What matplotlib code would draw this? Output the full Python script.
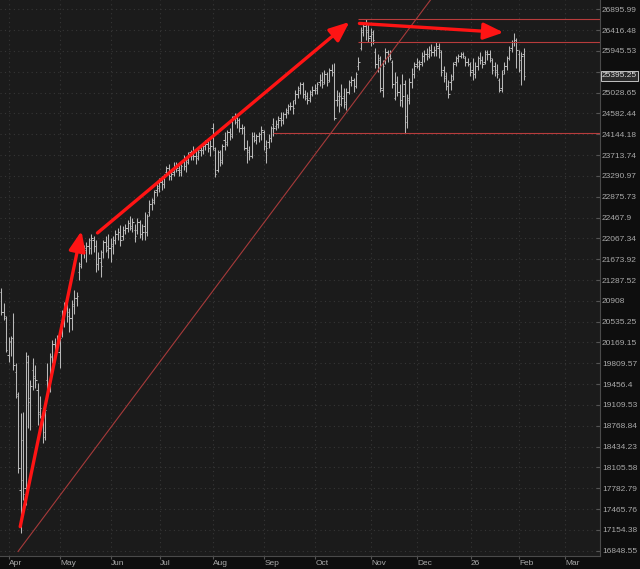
import numpy as np
import pandas as pd
import matplotlib
matplotlib.use('Agg')
import matplotlib.pyplot as plt
from matplotlib.ticker import NullLocator

plt.rcParams['font.family'] = ['Liberation Sans', 'DejaVu Sans']

# daily OHLC, 2025-03-26 .. 2026-02-03
opens = [21069, 20708, 20600, 19952, 20178, 20247, 19661, 19258, 17756, 18540, 17787, 19832, 19158, 19696, 19560, 19358,
         18994, 18928, 18668, 19526, 19392, 19935, 20143, 20109, 20004, 20530, 20672, 20780, 20636, 20600, 20852, 20960,
         21436, 21585, 21810, 21847, 21923, 21885, 22037, 21923, 21585, 21622, 21810, 21999, 21923, 21885, 21923, 22037,
         22152, 22190, 22113, 22228, 22267, 22363, 22267, 22228, 22228, 22382, 22152, 22305, 22190, 22577, 22733, 22812,
         23010, 23089, 23169, 23129, 23370, 23451, 23290, 23370, 23492, 23411, 23370, 23614, 23492, 23614, 23778, 23737,
         23696, 23696, 23819, 23819, 23901, 23943, 23860, 24276, 23819, 23411, 23778, 23614, 24026, 23984, 24192, 24150,
         24529, 24402, 24444, 24276, 24276, 23860, 23819, 23696, 24109, 24026, 24109, 24150, 24192, 23778, 23984, 24067,
         24360, 24318, 24360, 24487, 24444, 24572, 24656, 24742, 24742, 24870, 25000, 25086, 25217, 25000, 24913, 24913,
         25043, 25086, 25086, 25260, 25304, 25260, 25435, 25304, 25524, 25479, 24870, 24870, 24957, 24957, 24785, 25043,
         25260, 25304, 25173, 25612, 26013, 26421, 26512, 26376, 26285, 26376, 25924, 25656, 25790, 25086, 25745, 25924,
         25879, 25700, 24913, 25260, 25043, 24870, 25217, 24529, 24913, 25260, 25435, 25656, 25612, 25700, 25834, 25879,
         25879, 25968, 25924, 25968, 26013, 25924, 25524, 25392, 25173, 25260, 25392, 25700, 25790, 25834, 25879, 25790,
         25700, 25656, 25524, 25435, 25612, 25790, 25745, 25700, 25879, 25879, 25745, 25612, 25524, 25304, 25130, 25524,
         25612, 25790, 26013, 26149, 26194, 25879, 25524, 25879]
highs = [21142, 20870, 20636, 20265, 20282, 20690, 19815, 19325, 18977, 18994, 20004, 19952, 19526, 19900, 19781, 19476,
         19258, 19010, 19125, 19815, 19987, 20213, 20247, 20300, 20300, 20744, 20888, 20888, 20779, 20924, 21105, 21069,
         21622, 21885, 21942, 21999, 22075, 22152, 22113, 22037, 21810, 21847, 22037, 22113, 22152, 22075, 22113, 22228,
         22267, 22324, 22305, 22344, 22421, 22498, 22460, 22344, 22460, 22421, 22344, 22577, 22538, 22812, 22851, 23010,
         23129, 23250, 23290, 23330, 23492, 23533, 23411, 23573, 23573, 23533, 23533, 23716, 23655, 23778, 23819, 23901,
         23819, 23860, 23943, 23943, 24026, 24067, 24026, 24381, 23881, 23819, 23819, 23943, 24192, 24234, 24276, 24529,
         24593, 24529, 24487, 24360, 24318, 24026, 23901, 24192, 24192, 24150, 24192, 24318, 24234, 24026, 24150, 24318,
         24487, 24444, 24529, 24614, 24614, 24699, 24785, 24828, 24870, 25086, 25173, 25260, 25260, 25086, 25043, 25086,
         25173, 25217, 25260, 25435, 25479, 25524, 25479, 25567, 25656, 25678, 25086, 25043, 25217, 25130, 25130, 25304,
         25392, 25348, 25479, 25812, 26490, 26604, 26665, 26559, 26467, 26421, 26013, 25879, 25834, 25745, 26013, 25968,
         25968, 25745, 25479, 25392, 25217, 25435, 25304, 25000, 25348, 25567, 25700, 25790, 25745, 25924, 25968, 26013,
         26058, 26103, 26058, 26142, 26126, 25968, 25612, 25479, 25304, 25435, 25700, 25834, 25879, 25924, 25924, 25834,
         25790, 25700, 25790, 25700, 25834, 25924, 25834, 25968, 25968, 25968, 25790, 25700, 25656, 25348, 25524, 25700,
         25834, 26058, 26194, 26353, 26239, 25968, 25924, 26013]
lows = [20654, 20565, 20004, 19832, 19935, 19696, 19224, 18018, 17108, 17603, 17527, 18733, 18701, 19358, 19392, 18782,
        18895, 18492, 18540, 19241, 19325, 19815, 19866, 20004, 19729, 20265, 20441, 20530, 20353, 20388, 20672, 20816,
        21288, 21510, 21696, 21622, 21772, 21772, 21810, 21436, 21473, 21343, 21696, 21810, 21696, 21622, 21772, 21961,
        22037, 21923, 22037, 22152, 22190, 22228, 22190, 21999, 22152, 22075, 22037, 22037, 22113, 22498, 22616, 22733,
        22891, 22970, 23010, 23050, 23290, 23209, 23209, 23290, 23370, 23290, 23290, 23411, 23370, 23533, 23614, 23614,
        23533, 23614, 23696, 23737, 23819, 23778, 23696, 23819, 23270, 23370, 23492, 23533, 23819, 23901, 24026, 24067,
        24360, 24276, 24192, 24150, 23819, 23553, 23614, 23655, 23984, 23943, 23984, 24026, 23819, 23553, 23860, 23984,
        24109, 24234, 24276, 24318, 24360, 24487, 24572, 24656, 24572, 24785, 24913, 25000, 24913, 24870, 24785, 24828,
        24957, 25000, 25000, 25173, 25130, 25217, 25173, 25260, 25392, 24444, 24742, 24614, 24742, 24699, 24656, 25000,
        25173, 25043, 25130, 25524, 25968, 26285, 26194, 26149, 26058, 26103, 25568, 25479, 25043, 24935, 25656, 25700,
        25745, 25130, 24870, 24957, 24742, 24720, 24165, 24276, 24785, 25130, 25348, 25567, 25524, 25612, 25700, 25745,
        25790, 25834, 25834, 25834, 25790, 25392, 25260, 25086, 24913, 25086, 25304, 25612, 25700, 25790, 25790, 25612,
        25612, 25392, 25304, 25348, 25524, 25656, 25568, 25656, 25745, 25700, 25435, 25392, 25348, 25043, 25043, 25435,
        25524, 25745, 25924, 26058, 25568, 25479, 25195, 25304]
closes = [20708, 20636, 20039, 20195, 20247, 19781, 19291, 18096, 17910, 17695, 19935, 19224, 19425, 19593, 19526, 18961,
          19059, 18588, 19026, 19358, 19917, 20143, 20109, 20230, 20247, 20600, 20834, 20708, 20600, 20816, 20960, 20996,
          21548, 21810, 21885, 21923, 22037, 22075, 21923, 21585, 21696, 21548, 21999, 21847, 21885, 21961, 22037, 22152,
          22190, 22037, 22228, 22267, 22363, 22305, 22382, 22113, 22382, 22152, 22190, 22190, 22498, 22733, 22772, 22970,
          23050, 23169, 23129, 23290, 23451, 23290, 23330, 23492, 23451, 23411, 23492, 23492, 23573, 23737, 23696, 23696,
          23655, 23778, 23819, 23901, 23943, 23860, 23901, 23860, 23330, 23778, 23573, 23901, 23943, 24192, 24109, 24487,
          24487, 24444, 24276, 24276, 23860, 23778, 23696, 24109, 24026, 24109, 24150, 24234, 23901, 23860, 24067, 24276,
          24276, 24360, 24444, 24444, 24572, 24614, 24742, 24742, 24699, 25000, 25130, 25217, 25000, 24957, 24870, 25000,
          25086, 25130, 25217, 25304, 25217, 25435, 25260, 25524, 25479, 24487, 24957, 24785, 24913, 24828, 25043, 25260,
          25304, 25173, 25435, 25700, 26376, 26512, 26421, 26239, 26330, 26194, 25656, 25745, 25130, 25612, 25924, 25834,
          25790, 25217, 25260, 25043, 24870, 24957, 24402, 24870, 25260, 25435, 25612, 25700, 25656, 25834, 25879, 25834,
          25968, 25924, 25968, 26058, 25968, 25479, 25348, 25173, 25000, 25304, 25656, 25790, 25834, 25879, 25834, 25700,
          25656, 25479, 25435, 25612, 25790, 25745, 25656, 25924, 25879, 25790, 25524, 25479, 25435, 25086, 25435, 25612,
          25790, 25968, 26149, 26194, 25968, 25745, 25834, 25395.25]

holidays = ['2025-04-18', '2025-05-26', '2025-06-19', '2025-07-04', '2025-09-01', '2025-11-27',
            '2025-12-25', '2026-01-01', '2026-01-19', '2026-02-16']
month_labels = ['Apr', 'May', 'Jun', 'Jul', 'Aug', 'Sep', 'Oct', 'Nov', 'Dec', '26', 'Feb', 'Mar']

ytick_vals = [26895.99, 26416.48, 25945.53, 25482.97, 25028.65, 24582.44, 24144.18, 23713.74, 23290.97,
              22875.73, 22467.9, 22067.34, 21673.92, 21287.52, 20908, 20535.25, 20169.15, 19809.57, 19456.4,
              19109.53, 18768.84, 18434.23, 18105.58, 17782.79, 17465.76, 17154.38, 16848.55]
# the 25482.97 label sits under the last-price tag in the reference
ytick_labels = ['26895.99', '26416.48', '25945.53', '', '25028.65', '24582.44', '24144.18', '23713.74',
                '23290.97', '22875.73', '22467.9', '22067.34', '21673.92', '21287.52', '20908', '20535.25',
                '20169.15', '19809.57', '19456.4', '19109.53', '18768.84', '18434.23', '18105.58', '17782.79',
                '17465.76', '17154.38', '16848.55']

# drawn annotations: horizontal levels (price, start date), trend arrows ((idx, price) -> (idx, price))
levels = [26665, 26142, 24165]
level_starts = ['2025-10-24', '2025-10-24', '2025-09-05']
arrows = [((7.8, 17202), (33.0, 22208)),
          ((39.6, 22171), (143.3, 26604)),
          ((147.4, 26570), (206.7, 26363))]
trend = [(6.9, 16837), (176.7, 27119)]

days = pd.bdate_range('2025-03-26', '2026-03-31', freq='C', holidays=holidays)
n = len(closes)
idx = np.arange(n)
o = np.array(opens, float)
h = np.array(highs, float)
l = np.array(lows, float)
c = np.array(closes, float)

fig = plt.figure(figsize=(6.4, 5.69), dpi=100, facecolor='#0e0e0e')
ax = fig.add_axes([0, 13 / 569, 600 / 640, 556 / 569], facecolor='#1b1b1b')
ax.set_yscale('log')
ax.set_ylim(16771.6, 27113)
ax.set_xlim(-0.52, 246.4)

ax.set_yticks(ytick_vals)
ax.set_yticklabels(ytick_labels)
ax.yaxis.set_minor_locator(NullLocator())
ax.yaxis.tick_right()

months = pd.date_range('2025-04-01', '2026-03-01', freq='MS')
month_pos = [days.searchsorted(m) - 0.8 for m in months]
ax.set_xticks(month_pos)
ax.set_xticklabels(month_labels)
for lbl in ax.get_xticklabels():
    lbl.set_horizontalalignment('left')

ax.tick_params(axis='y', colors='#555555', labelcolor='#a9a9a9', labelsize=6, length=3, pad=1.5, direction='in')
ax.tick_params(axis='x', colors='#555555', labelcolor='#a9a9a9', labelsize=6, length=2, pad=1)
ax.grid(True, color='#363636', linestyle=(0, (1, 3)), linewidth=0.8)
ax.set_axisbelow(True)
for side in ['top', 'left']:
    ax.spines[side].set_visible(False)
for side in ['right', 'bottom']:
    ax.spines[side].set_color('#4a4a4a')

# OHLC bars
bar_col = '#b8b8b8'
ax.vlines(idx, l, h, color=bar_col, lw=0.75)
ax.hlines(o, idx - 0.55, idx, color=bar_col, lw=0.75)
ax.hlines(c, idx, idx + 0.55, color=bar_col, lw=0.75)

# levels
for lv, st in zip(levels, level_starts):
    ax.hlines(lv, days.searchsorted(pd.Timestamp(st)) - 0.3, 246.4, color='#b83c3c', lw=0.8)

# long trend line
(x1, p1), (x2, p2) = trend
tx = np.array([x1, 200])
ty = np.exp(np.log(p1) + (np.log(p2) - np.log(p1)) * (tx - x1) / (x2 - x1))
ax.plot(tx, ty, color='#a63a3a', lw=0.8)

for start, end in arrows:
    ax.annotate('', xy=end, xytext=start,
                arrowprops=dict(arrowstyle='-|>,head_length=1.2,head_width=0.5', color='#ff1414',
                                lw=2.4, mutation_scale=10, shrinkA=0, shrinkB=0))

# last price tag
ax.annotate(f'{closes[-1]:.2f}', xy=(1, closes[-1]), xycoords=('axes fraction', 'data'),
            xytext=(1.5, 0), textcoords='offset points', va='center', ha='left',
            fontsize=6, color='#dddddd',
            bbox=dict(boxstyle='square,pad=0.15', fc='#2a2a2a', ec='#dcdcdc', lw=0.6),
            annotation_clip=False)

fig.savefig('out.png', dpi=100, facecolor=fig.get_facecolor())
